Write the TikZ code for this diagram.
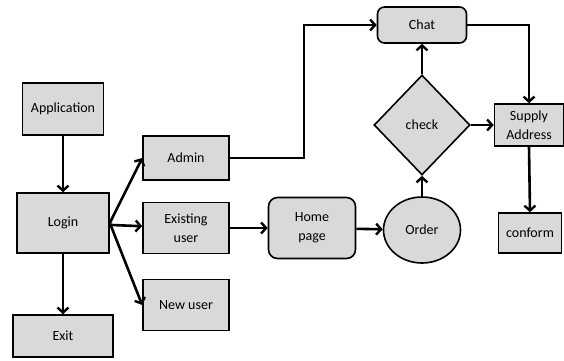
\documentclass[tikz,border=0pt]{standalone}
\usepackage{fontspec}
\setmainfont{Carlito}
\usetikzlibrary{arrows.meta,positioning,shapes,shapes.geometric}

\definecolor{boxgray}{RGB}{217,217,217}

\tikzset{
  block/.style={draw, fill=boxgray, line width=1.6pt, align=center, inner sep=2pt,
    font=\fontsize{14}{19}\selectfont},
  flow/.style={line width=2.6pt, -{Straight Barb[length=5pt,width=11pt,line width=2.4pt]}}
}

\begin{document}
\begin{tikzpicture}[x=1pt,y=-1pt]
    \useasboundingbox (0,0) rectangle (564,360);

    % left column
    \node[block, minimum width=81pt, minimum height=52pt] (app) at (63,109) {Application};
    \node[block, minimum width=92pt, minimum height=60pt] (login) at (63,223) {Login};
    \node[block, minimum width=100pt, minimum height=42pt] (exit) at (63,336) {Exit};

    % users
    \node[block, minimum width=86pt, minimum height=44pt] (admin) at (186,158) {Admin};
    \node[block, minimum width=86pt, minimum height=51pt] (exist) at (186,228) {Existing\\user};
    \node[block, minimum width=86pt, minimum height=51pt] (newuser) at (186,305) {New user};

    % ordering
    \node[block, rounded corners=9pt, minimum width=87pt, minimum height=61pt] (home) at (312,228) {Home\\page};
    \node[block, ellipse, minimum width=77pt, minimum height=66pt] (order) at (422,230) {Order};
    \node[block, diamond, minimum width=96pt, minimum height=100pt] (check) at (422,125) {check};
    \node[block, rounded corners=7pt, minimum width=89pt, minimum height=36pt] (chat) at (422,25) {Chat};
    \node[block, minimum width=69pt, minimum height=42pt] (supply) at (529,125) {Supply\\Address};
    \node[block, minimum width=63pt, minimum height=40pt] (conform) at (530,233) {conform};

    \draw[flow] (app) -- (login);
    \draw[flow] (login) -- (exit);
    \draw[flow] (login.east) -- (admin.west);
    \draw[flow] (login) -- (exist);
    \draw[flow] (login.east) -- (newuser.west);
    \draw[flow] (admin.east) -- ++(74,0) |- (chat.west);
    \draw[flow] (exist) -- (home);
    \draw[flow] (home) -- (order);
    \draw[flow] (order) -- (check);
    \draw[flow] (check) -- (chat);
    \draw[flow] (check) -- (supply);
    \draw[flow] (chat.east) -| (supply.north);
    \draw[flow] (supply.south) -- (conform.north);
\end{tikzpicture}
\end{document}
